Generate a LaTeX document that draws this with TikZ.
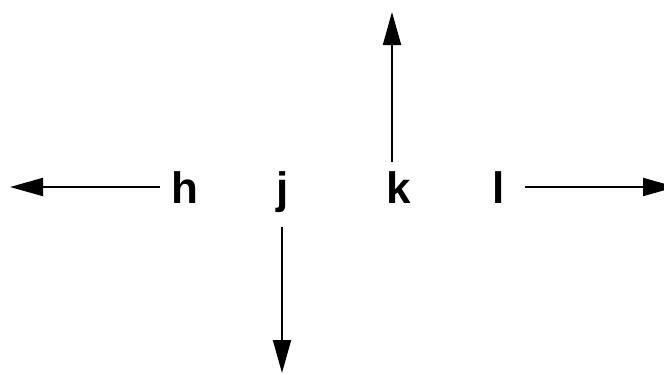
\documentclass[tikz,border=0pt]{standalone}
\usepackage{fontspec}
\setmainfont{Liberation Sans}
\usetikzlibrary{arrows.meta}
\begin{document}
\begin{tikzpicture}[x=1pt,y=-1pt,
  key/.style={font=\fontsize{44}{44}\selectfont\bfseries, inner sep=0pt, outer sep=0pt,
    text height=32pt, text depth=0pt, anchor=center},
  arr/.style={line width=2pt, -{Triangle[length=33pt,width=18pt]}}]
  \useasboundingbox (0,0) rectangle (664,373);
  \clip (0,0) rectangle (664,373);
  % letter keys, sharing one baseline
  \node[key] (h) at (185,187) {h};
  \node[key] (j) at (282.5,187) {j};
  \node[key] (k) at (399,187) {k};
  \node[key] (l) at (498.5,187) {l};
  % arrow ends
  \coordinate (hEnd) at (10,187);
  \coordinate (jEnd) at (282,373);
  \coordinate (kEnd) at (392,12);
  \coordinate (lEnd) at (676,187);
  % direction arrows
  \draw[arr, shorten <=11.6pt] (h.west) -- (hEnd);
  \draw[arr, shorten <=24pt] (j.south -| jEnd) -- (jEnd);
  \draw[arr, shorten <=9pt] (k.north -| kEnd) -- (kEnd);
  \draw[arr, shorten <=20.4pt] (l.east) -- (lEnd);
\end{tikzpicture}
\end{document}
